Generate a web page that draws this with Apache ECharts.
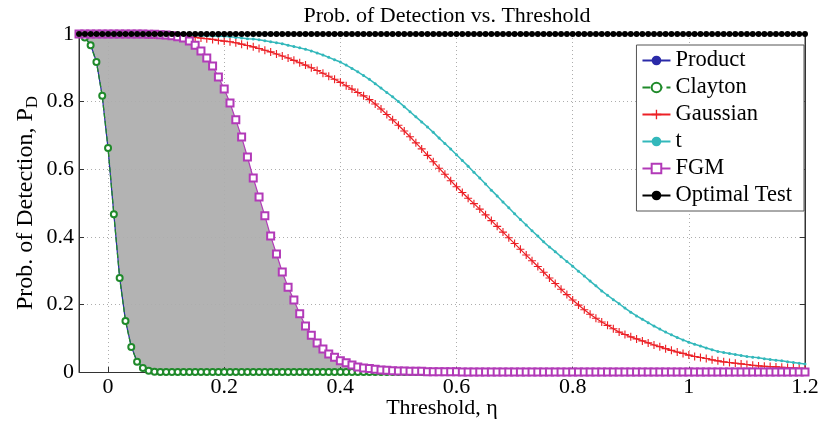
<!DOCTYPE html>
<html>
<head>
<meta charset="utf-8">
<script src="https://cdn.jsdelivr.net/npm/echarts@6/dist/echarts.min.js"></script>
<style>html,body{margin:0;padding:0;background:#fff}#c{width:820px;height:425px}</style>
</head>
<body>
<div id="c"></div>
<script>
// Threshold values (x)
const eta = [
-0.05,-0.04,-0.03,-0.02,-0.01,0,0.01,0.02,0.03,0.04,
0.05,0.06,0.07,0.08,0.09,0.1,0.11,0.12,0.13,0.14,
0.15,0.16,0.17,0.18,0.19,0.2,0.21,0.22,0.23,0.24,
0.25,0.26,0.27,0.28,0.29,0.3,0.31,0.32,0.33,0.34,
0.35,0.36,0.37,0.38,0.39,0.4,0.41,0.42,0.43,0.44,
0.45,0.46,0.47,0.48,0.49,0.5,0.51,0.52,0.53,0.54,
0.55,0.56,0.57,0.58,0.59,0.6,0.61,0.62,0.63,0.64,
0.65,0.66,0.67,0.68,0.69,0.7,0.71,0.72,0.73,0.74,
0.75,0.76,0.77,0.78,0.79,0.8,0.81,0.82,0.83,0.84,
0.85,0.86,0.87,0.88,0.89,0.9,0.91,0.92,0.93,0.94,
0.95,0.96,0.97,0.98,0.99,1,1.01,1.02,1.03,1.04,
1.05,1.06,1.07,1.08,1.09,1.1,1.11,1.12,1.13,1.14,
1.15,1.16,1.17,1.18,1.19,1.2
];

const product = [
1.000,0.991,0.968,0.918,0.816,0.661,0.466,0.279,0.152,0.075,
0.031,0.012,0.004,0.001,0,0,0,0,0,0,
0,0,0,0,0,0,0,0,0,0,
0,0,0,0,0,0,0,0,0,0,
0,0,0,0,0,0,0,0,0,0,
0,0,0,0,0,0,0,0,0,0,
0,0,0,0,0,0,0,0,0,0,
0,0,0,0,0,0,0,0,0,0,
0,0,0,0,0,0,0,0,0,0,
0,0,0,0,0,0,0,0,0,0,
0,0,0,0,0,0,0,0,0,0,
0,0,0,0,0,0,0,0,0,0,
0,0,0,0,0,0
];

const clayton = [
1.000,0.990,0.967,0.917,0.817,0.663,0.467,0.278,0.151,0.074,
0.030,0.012,0.004,0.001,0,0,0,0,0,0,
0,0,0,0,0,0,0,0,0,0,
0,0,0,0,0,0,0,0,0,0,
0,0,0,0,0,0,0,0,0,0,
0,0,0,0,0,0,0,0,0,0,
0,0,0,0,0,0,0,0,0,0,
0,0,0,0,0,0,0,0,0,0,
0,0,0,0,0,0,0,0,0,0,
0,0,0,0,0,0,0,0,0,0,
0,0,0,0,0,0,0,0,0,0,
0,0,0,0,0,0,0,0,0,0,
0,0,0,0,0,0
];

const gaussian = [
1,1,1,1,1,1,1,1,1,1,
0.999,0.999,0.998,0.998,0.997,0.996,0.995,0.994,0.993,0.991,
0.990,0.988,0.986,0.984,0.981,0.979,0.977,0.974,0.970,0.966,
0.962,0.957,0.952,0.947,0.941,0.935,0.929,0.922,0.915,0.908,
0.900,0.892,0.884,0.875,0.866,0.857,0.847,0.837,0.827,0.817,
0.806,0.793,0.778,0.762,0.746,0.730,0.713,0.696,0.678,0.660,
0.641,0.622,0.603,0.585,0.566,0.548,0.531,0.514,0.498,0.482,
0.465,0.448,0.431,0.414,0.397,0.380,0.363,0.346,0.329,0.312,
0.295,0.278,0.262,0.245,0.229,0.213,0.198,0.184,0.171,0.159,
0.148,0.138,0.128,0.118,0.111,0.104,0.098,0.092,0.086,0.080,
0.075,0.069,0.064,0.059,0.055,0.050,0.046,0.043,0.040,0.036,
0.033,0.030,0.028,0.026,0.024,0.022,0.020,0.018,0.017,0.016,
0.015,0.014,0.013,0.012,0.011,0.010
];

const tCopula = [
1,1,1,1,1,1,1,1,1,1,
1.000,0.999,0.999,0.999,0.998,0.998,0.998,0.997,0.997,0.996,
0.996,0.995,0.995,0.994,0.993,0.993,0.992,0.990,0.988,0.986,
0.985,0.983,0.980,0.977,0.974,0.971,0.967,0.963,0.959,0.955,
0.950,0.944,0.938,0.931,0.924,0.917,0.908,0.898,0.888,0.877,
0.866,0.853,0.840,0.827,0.814,0.800,0.785,0.770,0.755,0.740,
0.725,0.709,0.692,0.676,0.660,0.643,0.626,0.609,0.591,0.574,
0.556,0.538,0.521,0.503,0.486,0.468,0.451,0.435,0.418,0.402,
0.385,0.370,0.356,0.341,0.327,0.313,0.298,0.284,0.269,0.255,
0.240,0.227,0.214,0.202,0.189,0.177,0.166,0.156,0.146,0.136,
0.127,0.118,0.110,0.102,0.095,0.088,0.082,0.077,0.071,0.066,
0.061,0.058,0.055,0.052,0.049,0.046,0.044,0.042,0.039,0.037,
0.035,0.033,0.030,0.028,0.026,0.024
];

const fgm = [
1,1,1,1,1,1,1,1,1,1,
1,1,0.999,0.999,0.998,0.997,0.995,0.992,0.988,0.979,
0.967,0.950,0.929,0.905,0.873,0.837,0.796,0.746,0.695,0.636,
0.574,0.518,0.462,0.402,0.349,0.296,0.251,0.213,0.172,0.136,
0.109,0.086,0.068,0.053,0.044,0.033,0.027,0.021,0.015,0.012,
0.010,0.008,0.006,0.005,0.004,0.003,0.003,0.002,0.002,0.002,
0.001,0.001,0.001,0.001,0.001,0.001,0,0,0,0,
0,0,0,0,0,0,0,0,0,0,
0,0,0,0,0,0,0,0,0,0,
0,0,0,0,0,0,0,0,0,0,
0,0,0,0,0,0,0,0,0,0,
0,0,0,0,0,0,0,0,0,0,
0,0,0,0,0,0
];

const optimal = [
1,1,1,1,1,1,1,1,1,1,
1,1,1,1,1,1,1,1,1,1,
1,1,1,1,1,1,1,1,1,1,
1,1,1,1,1,1,1,1,1,1,
1,1,1,1,1,1,1,1,1,1,
1,1,1,1,1,1,1,1,1,1,
1,1,1,1,1,1,1,1,1,1,
1,1,1,1,1,1,1,1,1,1,
1,1,1,1,1,1,1,1,1,1,
1,1,1,1,1,1,1,1,1,1,
1,1,1,1,1,1,1,1,1,1,
1,1,1,1,1,1,1,1,1,1,
1,1,1,1,1,1
];

const yTicks = [0, 0.2, 0.4, 0.6, 0.8, 1];
const xTicks = [0, 0.2, 0.4, 0.6, 0.8, 1, 1.2];

const FONT = '"Liberation Serif", "Times New Roman", serif';
const pairs = ys => eta.map((x, i) => [x, ys[i]]);
const plusPath = 'path://M4.3,0H5.7V4.3H10V5.7H5.7V10H4.3V5.7H0V4.3H4.3Z';
const isTick = (arr, v) => arr.some(t => Math.abs(t - v) < 1e-6);

const chart = echarts.init(document.getElementById('c'), null, {renderer: 'canvas'});
const gridLine = {show: true, lineStyle: {type: [1, 3], color: '#adadad', width: 1}};

chart.setOption({
  animation: false,
  backgroundColor: '#fff',
  title: {
    text: 'Prob. of Detection vs. Threshold',
    left: 442, top: 0, textAlign: 'center',
    textStyle: {fontFamily: FONT, fontSize: 22, fontWeight: 'normal', color: '#000'}
  },
  grid: {left: 79, right: 15, top: 34, bottom: 53, show: true, borderColor: '#333', borderWidth: 1,
         containLabel: false, outerBoundsMode: 'none'},
  legend: {
    data: ['Product', 'Clayton', 'Gaussian', 't', 'FGM', 'Optimal Test'],
    orient: 'vertical', right: 16, top: 45,
    backgroundColor: '#fff', borderColor: '#555', borderWidth: 1,
    padding: [4, 12, 4, 5], itemGap: 4, itemWidth: 28, itemHeight: 12,
    z: 10,
    textStyle: {fontFamily: FONT, fontSize: 22.5, color: '#000', lineHeight: 22.5}
  },
  xAxis: [{
    type: 'value', min: -0.05, max: 1.2, splitNumber: 6, z: 2,
    name: 'Threshold, η', nameLocation: 'middle', nameGap: 25, nameMoveOverlap: false,
    nameTextStyle: {fontFamily: FONT, fontSize: 22, color: '#000'},
    axisLine: {show: true, onZero: false, lineStyle: {color: '#333'}},
    axisTick: {show: true, inside: true, length: 5, lineStyle: {color: '#333'}},
    axisLabel: {fontFamily: FONT, fontSize: 22, color: '#000', margin: 4,
      formatter: v => (isTick(xTicks, v) ? String(+v.toFixed(2)) : '')},
    splitLine: gridLine
  }],
  yAxis: [{
    type: 'value', min: 0, max: 1, interval: 0.2, z: 2,
    name: 'Prob. of Detection, P{sub|D}', nameLocation: 'middle', nameGap: 38, nameMoveOverlap: false,
    nameTextStyle: {fontFamily: FONT, fontSize: 24, color: '#000',
      rich: {sub: {fontFamily: FONT, fontSize: 17, color: '#000', padding: [13, 0, 0, 0]}}},
    axisLine: {show: true, onZero: false, lineStyle: {color: '#333'}},
    axisTick: {show: true, inside: true, length: 5, lineStyle: {color: '#333'}},
    axisLabel: {fontFamily: FONT, fontSize: 22, color: '#000', margin: 5,
      formatter: v => (isTick(yTicks, v) ? String(+v.toFixed(1)) : '')},
    splitLine: gridLine
  }, {
    type: 'value', min: 0, max: 1, interval: 0.2, position: 'right', z: 2,
    axisLine: {show: true, onZero: false, lineStyle: {color: '#333'}},
    axisTick: {show: true, inside: true, length: 5, lineStyle: {color: '#333'}},
    axisLabel: {show: false}, splitLine: {show: false}
  }],
  series: [
    // gray band between the Clayton/Product curve and the FGM curve
    {name: 'fillUnderFGM', type: 'line', data: pairs(fgm), symbol: 'none',
     lineStyle: {opacity: 0}, areaStyle: {color: '#b3b3b3', opacity: 1}, silent: true, z: 1},
    {name: 'fillUnderClayton', type: 'line', data: pairs(clayton), symbol: 'none',
     lineStyle: {opacity: 0}, areaStyle: {color: '#ffffff', opacity: 1}, silent: true, z: 1},
    {name: 'Product', type: 'line', data: pairs(product), symbol: 'circle', symbolSize: 3,
     lineStyle: {color: '#2a2aa8', width: 1.2}, itemStyle: {color: '#2a2aa8'}, z: 3},
    {name: 'Clayton', type: 'line', data: pairs(clayton), symbol: 'emptyCircle', symbolSize: 6,
     lineStyle: {color: '#1f8a2a', width: 1.3, type: 'dashed'},
     itemStyle: {color: '#1f8a2a', borderColor: '#1f8a2a', borderWidth: 1.5}, z: 3},
    {name: 'Gaussian', type: 'line', data: pairs(gaussian), symbol: plusPath, symbolSize: 8,
     lineStyle: {color: '#ec2026', width: 1.2}, itemStyle: {color: '#ec2026'}, z: 3},
    {name: 't', type: 'line', data: pairs(tCopula), symbol: 'circle', symbolSize: 3,
     lineStyle: {color: '#33b8bb', width: 1.5}, itemStyle: {color: '#33b8bb'}, z: 3},
    {name: 'FGM', type: 'line', data: pairs(fgm), symbol: 'emptyRect', symbolSize: 7,
     lineStyle: {color: '#b23ab8', width: 1.2},
     itemStyle: {color: '#b23ab8', borderColor: '#b23ab8', borderWidth: 1.3}, z: 3},
    {name: 'Optimal Test', type: 'line', data: pairs(optimal), symbol: 'circle', symbolSize: 6,
     lineStyle: {color: '#000', width: 2}, itemStyle: {color: '#000'}, z: 4}
  ]
});
</script>
</body>
</html>
